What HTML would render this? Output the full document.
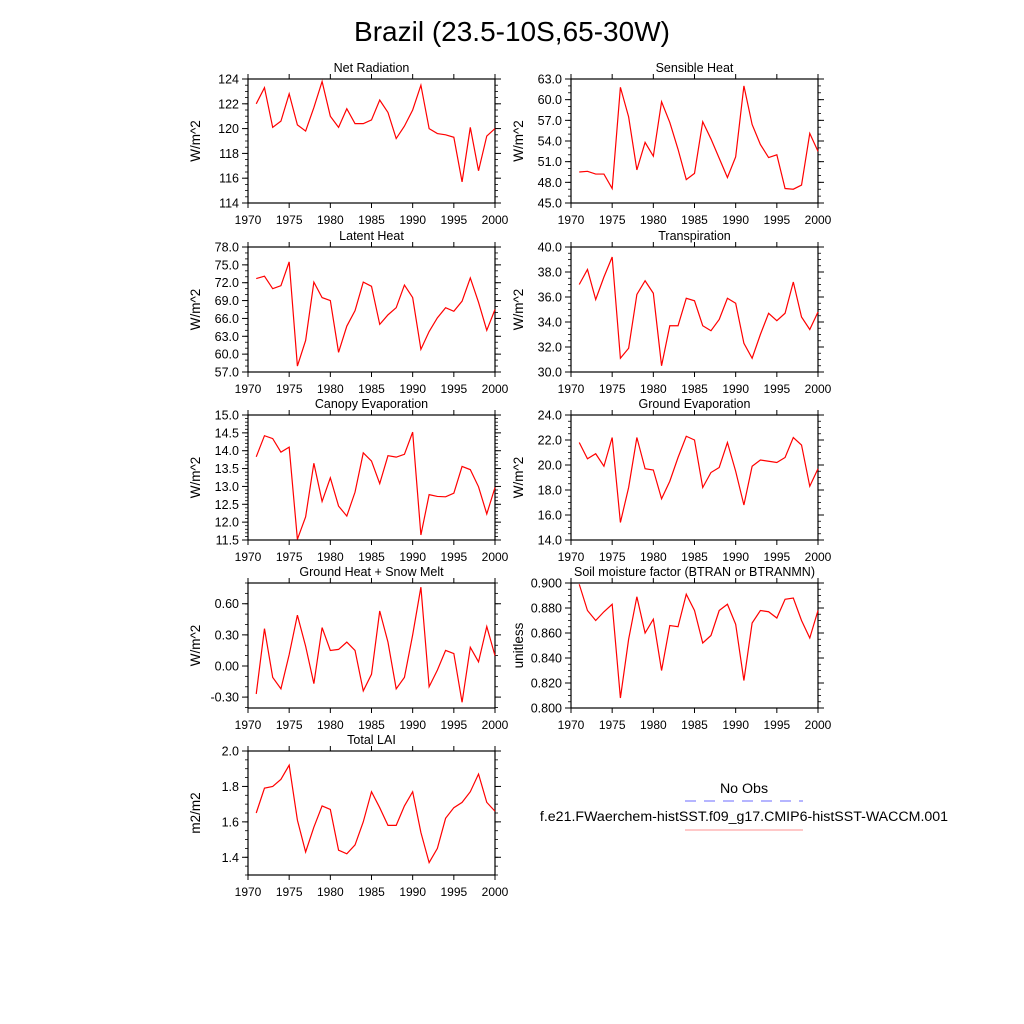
<!DOCTYPE html>
<html><head><meta charset="utf-8"><style>
body{margin:0;background:#fff}
svg{display:block;font-family:"Liberation Sans",sans-serif}
</style></head><body>
<svg id="chart" width="1024" height="1024" viewBox="0 0 1024 1024">
<rect width="1024" height="1024" fill="#fff"/>
<text x="512" y="41" text-anchor="middle" font-size="28">Brazil (23.5-10S,65-30W)</text>
<g id="panels"></g>
<g>
<text x="744" y="793" text-anchor="middle" font-size="14.2">No Obs</text>
<line x1="685" y1="801" x2="803" y2="801" stroke="#6b6bff" stroke-width="1" stroke-dasharray="11,8"/>
<text x="744" y="821" text-anchor="middle" font-size="14.2">f.e21.FWaerchem-histSST.f09_g17.CMIP6-histSST-WACCM.001</text>
<line x1="685" y1="830" x2="803" y2="830" stroke="#ff9090" stroke-width="1"/>
</g>
</svg>
<script>
const years=[1971,1972,1973,1974,1975,1976,1977,1978,1979,1980,1981,1982,1983,1984,1985,1986,1987,1988,1989,1990,1991,1992,1993,1994,1995,1996,1997,1998,1999,2000];
const xTicks=[1970,1975,1980,1985,1990,1995,2000];
const netRad=[122.0,123.3,120.1,120.6,122.8,120.3,119.8,121.7,123.8,121.0,120.1,121.6,120.4,120.4,120.7,122.3,121.3,119.2,120.2,121.5,123.5,120.0,119.6,119.5,119.3,115.7,120.1,116.6,119.4,120.0];
const sensible=[49.5,49.6,49.2,49.2,47.1,61.8,57.5,49.8,53.8,51.8,59.7,56.7,52.8,48.4,49.3,56.8,54.3,51.5,48.7,51.7,62.0,56.4,53.5,51.6,52.0,47.1,47.0,47.6,55.1,52.5];
const latent=[72.7,73.1,71.0,71.5,75.5,58.0,62.3,72.1,69.5,69.0,60.3,64.7,67.3,72.1,71.4,65.0,66.6,67.8,71.6,69.5,60.8,63.8,66.1,67.8,67.2,68.9,72.8,68.7,64.0,67.5];
const transp=[37.0,38.2,35.8,37.6,39.2,31.1,31.9,36.2,37.3,36.3,30.5,33.7,33.7,35.9,35.7,33.7,33.3,34.2,35.9,35.5,32.3,31.1,33.0,34.7,34.1,34.7,37.2,34.4,33.4,34.8];
const canopy=[13.83,14.42,14.34,13.96,14.1,11.52,12.15,13.65,12.58,13.24,12.45,12.17,12.84,13.94,13.71,13.08,13.86,13.82,13.9,14.52,11.64,12.77,12.72,12.71,12.81,13.56,13.47,12.99,12.23,12.97];
const groundEvap=[21.8,20.5,20.9,19.9,22.2,15.4,18.2,22.2,19.7,19.6,17.3,18.7,20.6,22.3,22.0,18.2,19.4,19.8,21.8,19.5,16.8,19.9,20.4,20.3,20.2,20.6,22.2,21.6,18.3,19.7];
const groundHeat=[-0.27,0.36,-0.11,-0.22,0.11,0.49,0.19,-0.17,0.37,0.15,0.16,0.23,0.15,-0.24,-0.08,0.53,0.23,-0.22,-0.11,0.30,0.76,-0.20,-0.04,0.15,0.12,-0.35,0.18,0.04,0.38,0.10];
const btran=[0.899,0.878,0.870,0.877,0.883,0.808,0.855,0.889,0.860,0.871,0.830,0.866,0.865,0.891,0.878,0.852,0.858,0.878,0.883,0.867,0.822,0.868,0.878,0.877,0.872,0.887,0.888,0.870,0.856,0.878];
const lai=[1.65,1.79,1.80,1.84,1.92,1.61,1.43,1.57,1.69,1.67,1.44,1.42,1.47,1.60,1.77,1.68,1.58,1.58,1.69,1.77,1.54,1.37,1.45,1.62,1.68,1.71,1.77,1.87,1.71,1.66];

const panels=[
 {name:'net-radiation',title:'Net Radiation',unit:'W/m^2',data:netRad,min:114,max:124,ticks:[114,116,118,120,122,124],dec:0,minor:0.5,x0:248,y0:79,y1:203},
 {name:'sensible-heat',title:'Sensible Heat',unit:'W/m^2',data:sensible,min:45,max:63,ticks:[45,48,51,54,57,60,63],dec:1,minor:1,x0:571,y0:79,y1:203},
 {name:'latent-heat',title:'Latent Heat',unit:'W/m^2',data:latent,min:57,max:78,ticks:[57,60,63,66,69,72,75,78],dec:1,minor:1,x0:248,y0:247,y1:372},
 {name:'transpiration',title:'Transpiration',unit:'W/m^2',data:transp,min:30,max:40,ticks:[30,32,34,36,38,40],dec:1,minor:0.5,x0:571,y0:247,y1:372},
 {name:'canopy-evaporation',title:'Canopy Evaporation',unit:'W/m^2',data:canopy,min:11.5,max:15,ticks:[11.5,12,12.5,13,13.5,14,14.5,15],dec:1,minor:0.1,x0:248,y0:415,y1:540},
 {name:'ground-evaporation',title:'Ground Evaporation',unit:'W/m^2',data:groundEvap,min:14,max:24,ticks:[14,16,18,20,22,24],dec:1,minor:0.5,x0:571,y0:415,y1:540},
 {name:'ground-heat',title:'Ground Heat + Snow Melt',unit:'W/m^2',data:groundHeat,min:-0.405,max:0.8,ticks:[-0.3,0,0.3,0.6],dec:2,minor:0.1,x0:248,y0:583,y1:708},
 {name:'soil-moisture',title:'Soil moisture factor (BTRAN or BTRANMN)',unit:'unitless',data:btran,min:0.8,max:0.9,ticks:[0.8,0.82,0.84,0.86,0.88,0.9],dec:3,minor:0.005,x0:571,y0:583,y1:708},
 {name:'total-lai',title:'Total LAI',unit:'m2/m2',data:lai,min:1.3,max:2.0,ticks:[1.4,1.6,1.8,2.0],dec:1,minor:0.05,x0:248,y0:751,y1:875}
];
const NS='http://www.w3.org/2000/svg';
const root=document.getElementById('panels');
function mk(tag,attrs,parent){const e=document.createElementNS(NS,tag);for(const k in attrs)e.setAttribute(k,attrs[k]);parent.appendChild(e);return e;}
panels.forEach(p=>{
 const W=247,x1=p.x0+W;
 const g=mk('g',{},root);
 
 
 const xs=v=>p.x0+(v-1970)/30*W;
 const ys=v=>p.y1-(v-p.min)/(p.max-p.min)*(p.y1-p.y0);
 const fr=mk('rect',{x:p.x0,y:p.y0,width:W,height:p.y1-p.y0,fill:'none',stroke:'#000','stroke-width':1.2},g);
 
 
 const t=mk('text',{x:p.x0+W/2,y:p.y0-7,'text-anchor':'middle','font-size':12.5},g);t.textContent=p.title;
 
 
 const cy=(p.y0+p.y1)/2,ax=p.x0-48;
 const u=mk('text',{x:ax,y:cy,'text-anchor':'middle','font-size':13.5,transform:`rotate(-90 ${ax} ${cy})`},g);u.textContent=p.unit;
 
 
 xTicks.forEach(v=>{const x=xs(v);
  mk('line',{x1:x,y1:p.y1,x2:x,y2:p.y1+5,stroke:'#000'},g);
  mk('line',{x1:x,y1:p.y0,x2:x,y2:p.y0-5,stroke:'#000'},g);
  const l=mk('text',{x:x,y:p.y1+21,'text-anchor':'middle','font-size':12},g);l.textContent=v;
  
  
 });
 for(let k=Math.ceil(p.min/p.minor-1e-6);k*p.minor<=p.max+1e-9;k++){const y=ys(k*p.minor);
  mk('line',{x1:p.x0,y1:y,x2:p.x0-3,y2:y,stroke:'#000','stroke-width':0.8},g);
  mk('line',{x1:x1,y1:y,x2:x1+3,y2:y,stroke:'#000','stroke-width':0.8},g);}
 p.ticks.forEach(v=>{const y=ys(v);
  mk('line',{x1:p.x0,y1:y,x2:p.x0-6,y2:y,stroke:'#000'},g);
  mk('line',{x1:x1,y1:y,x2:x1+6,y2:y,stroke:'#000'},g);
  const l=mk('text',{x:p.x0-9,y:y+4.5,'text-anchor':'end','font-size':12.5},g);l.textContent=v.toFixed(p.dec);
  
  
 });
 const pts=p.data.map((v,i)=>xs(years[i]).toFixed(2)+','+ys(v).toFixed(2)).join(' ');
 const pl=mk('polyline',{points:pts,fill:'none',stroke:'#ff0000','stroke-width':1.2},g);
 
 
});
</script>
</body></html>
